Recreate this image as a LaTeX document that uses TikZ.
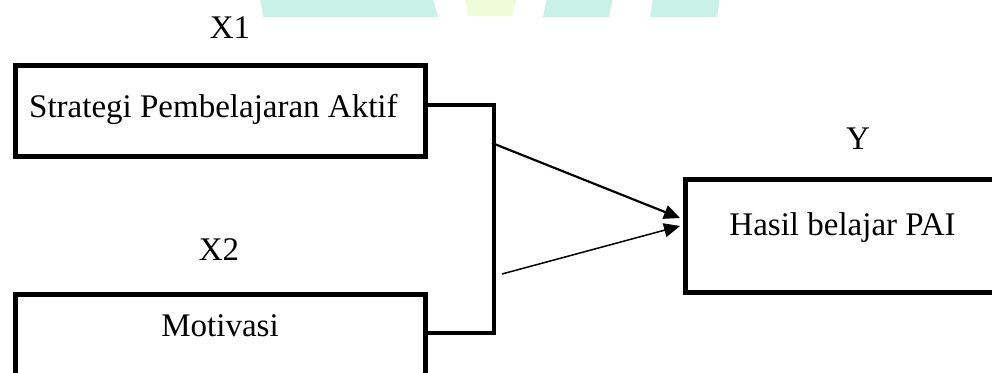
\documentclass[tikz,border=0pt]{standalone}
\usepackage{fontspec}
\setmainfont{Liberation Serif}
\usetikzlibrary{arrows.meta}
\definecolor{wmteal}{HTML}{CAF1E7}
\definecolor{wmyellow}{HTML}{EFFBD9}
\tikzset{
  boxframe/.style={draw=black, line width=5.5pt, rectangle, inner sep=0pt},
  lbl/.style={font=\fontsize{33}{40}\selectfont, inner sep=0pt, anchor=base},
  joiner/.style={draw=black, line width=4pt},
  linkarrow/.style={draw=black, -{Triangle[length=16pt,width=14pt]}},
}
\begin{document}
\begin{tikzpicture}[x=1pt,y=-1pt]
\useasboundingbox (0,0) rectangle (992,372);
\clip (0,0) rectangle (992,372);
% watermark
\fill[wmteal] (260,-2) -- (433,-2) -- (438,17) -- (263,17) -- cycle;
\fill[wmyellow] (465,-2) -- (517,-2) -- (512,16) -- (468,16) -- cycle;
\fill[wmteal] (547,-2) -- (613,-2) -- (609,17) -- (543,17) -- cycle;
\fill[wmteal] (653,-2) -- (720,-2) -- (717,17) -- (650,17) -- cycle;
% boxes
\node[boxframe, minimum width=410pt, minimum height=91pt, anchor=north west] (b1) at (12.5,62.5) {};
\node[boxframe, minimum width=410pt, minimum height=110pt, anchor=north west] (b2) at (12.5,291.5) {};
\node[boxframe, minimum width=350pt, minimum height=113pt, anchor=north west] (b3) at (682.5,176.5) {};
% texts
\node[lbl, anchor=base west] (t1) at (29,117) {Strategi Pembelajaran Aktif};
\node[lbl] (t2) at (220,336) {Motivasi};
\node[lbl] (t3) at (842.5,235) {Hasil belajar PAI};
\node[lbl] (x1) at (230,38) {X1};
\node[lbl] (x2) at (219,260) {X2};
\node[lbl] (yl) at (858,149) {Y};
% joiner
\coordinate (j1) at (494,105);
\coordinate (j2) at (494,333);
\coordinate (e1) at (425,105);
\coordinate (e2) at (425,333);
\draw[joiner, line join=miter] (e1) -- (j1) -- (j2) -- (e2);
% arrows
\coordinate (a1) at (492,143);
\coordinate (a2) at (502,274);
\coordinate (h1) at (680,218);
\coordinate (h2) at (680,226);
\draw[linkarrow, line width=2.2pt] (a1) -- (h1);
\draw[linkarrow, line width=1.5pt] (a2) -- (h2);
\end{tikzpicture}
\end{document}
